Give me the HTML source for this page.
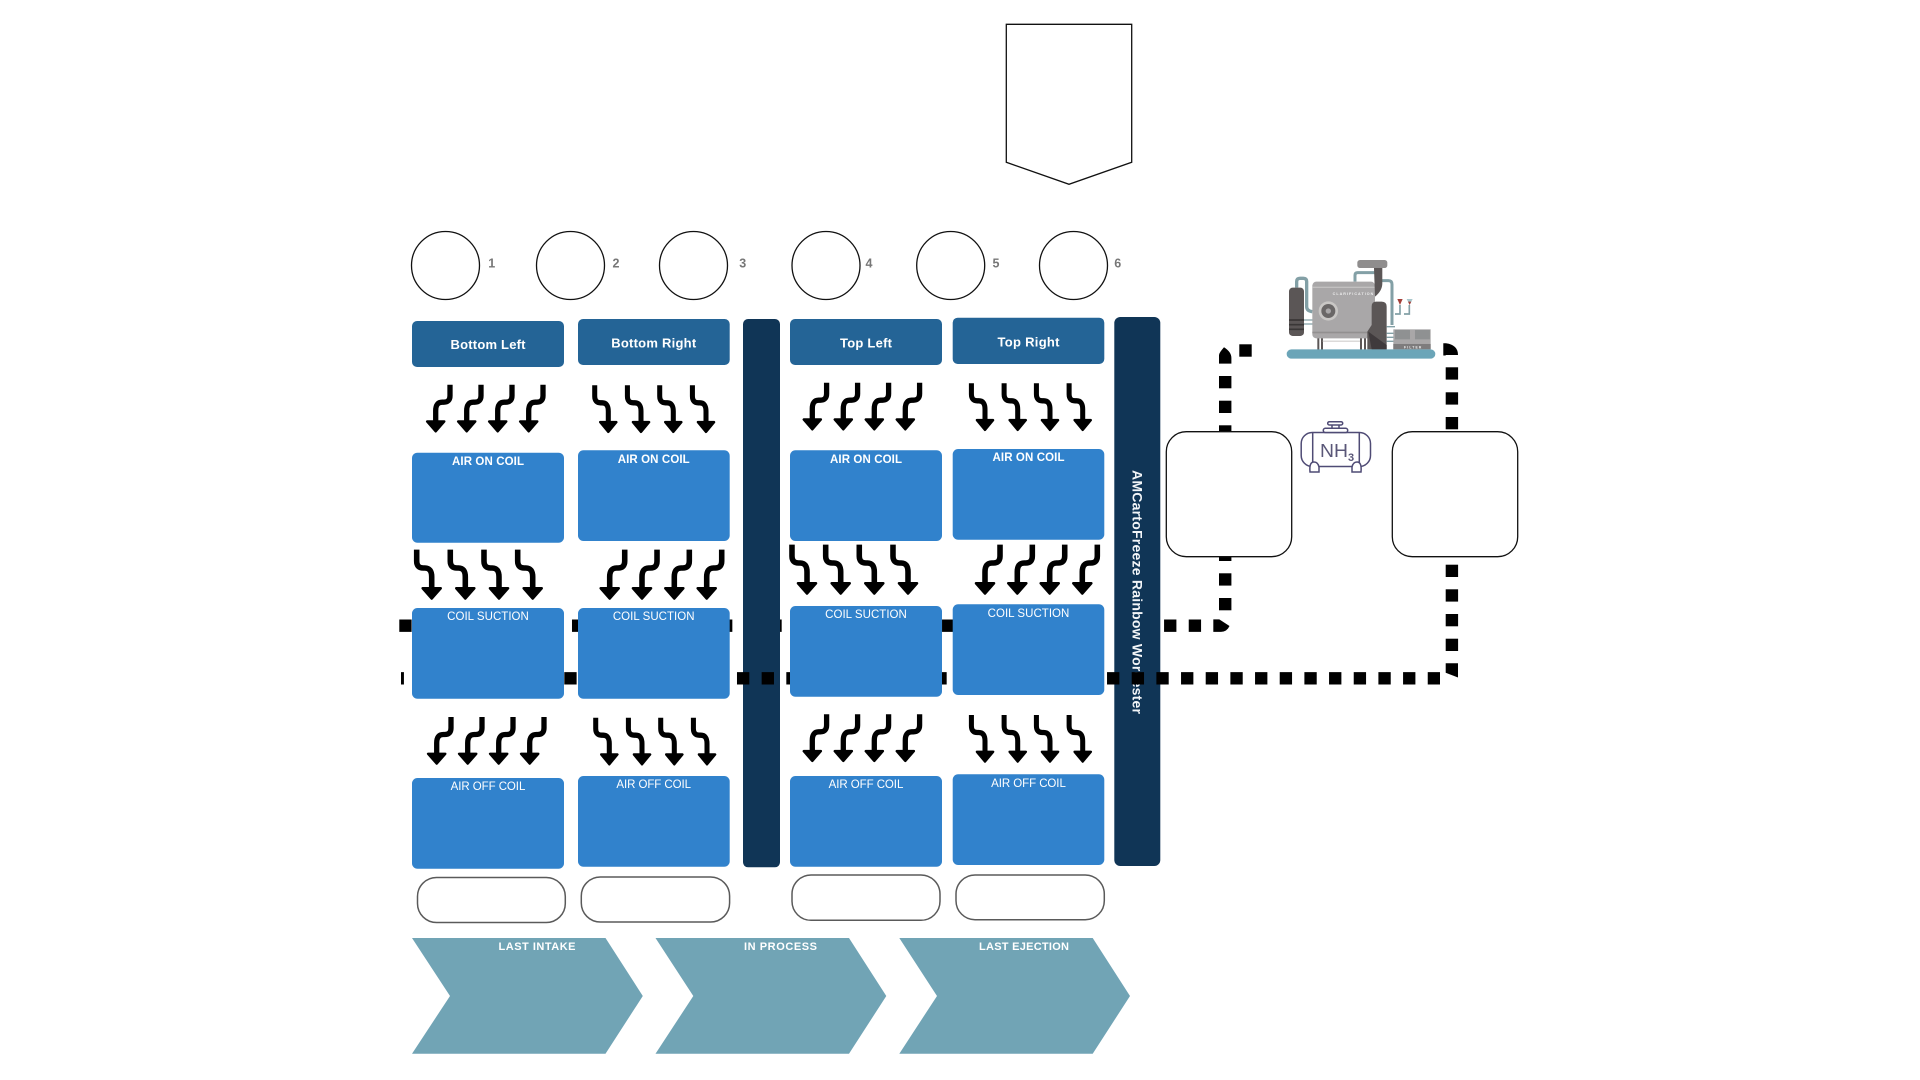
<!DOCTYPE html>
<html lang="en">
<head>
<meta charset="utf-8">
<title>Diagram</title>
<style>
html,body{margin:0;padding:0;background:#fff;width:1920px;height:1080px;overflow:hidden}
svg{display:block}
text{font-family:"Liberation Sans",sans-serif}
.hd{font-size:13px;font-weight:700;fill:#fff;text-anchor:middle}
.b{font-size:11.5px;font-weight:700;fill:#fff;text-anchor:middle}
.r{font-size:11.5px;fill:#fff;text-anchor:middle}
.ch{font-size:11px;font-weight:700;fill:#fff;text-anchor:middle}
.n{font-size:12.5px;font-weight:700;fill:#777;text-anchor:middle}
.hb{fill:#246496}
.bl{fill:#3182cc}
.dk{fill:#103556}
.pill{fill:#fff;stroke:#5a5a5a;stroke-width:1.5}
.circ{fill:#fff;stroke:#111;stroke-width:1.3}
</style>
</head>
<body>
<svg width="1920" height="1080" viewBox="0 0 1920 1080" xmlns="http://www.w3.org/2000/svg">
<defs>
<g id="dl">
<path d="M14.3 -48V-37Q14.3 -30.5 8 -30.5H6.5Q0 -30.5 0 -22V-10" fill="none" stroke="#000" stroke-width="5.3"/>
<polygon points="-8.6,-11.2 8.6,-11.2 0,-1.4" fill="#000" stroke="#000" stroke-width="2.4" stroke-linejoin="round"/>
</g>
<g id="dr"><use href="#dl" transform="scale(-1,1)"/></g>
</defs>

<rect width="1920" height="1080" fill="#fff"/>

<!-- shield -->
<polygon points="1006.3,24.3 1131.7,24.3 1131.7,162.3 1069,184.3 1006.3,162.3" fill="#fff" stroke="#111" stroke-width="1.3"/>

<!-- circles -->
<circle class="circ" cx="445.5" cy="265.5" r="34"/>
<circle class="circ" cx="570.5" cy="265.5" r="34"/>
<circle class="circ" cx="693.5" cy="265.5" r="34"/>
<circle class="circ" cx="826" cy="265.5" r="34"/>
<circle class="circ" cx="950.7" cy="265.5" r="34"/>
<circle class="circ" cx="1073.5" cy="265.5" r="34"/>
<text class="n" x="491.7" y="267.5">1</text>
<text class="n" x="616" y="267.5">2</text>
<text class="n" x="742.7" y="267.5">3</text>
<text class="n" x="869" y="267.5">4</text>
<text class="n" x="996" y="267.5">5</text>
<text class="n" x="1117.7" y="267.5">6</text>

<!-- dashed line 1 (below bars) -->
<path d="M399.3 625.7H1213" fill="none" stroke="#000" stroke-width="12.4" stroke-dasharray="12.33 12.34"/>

<!-- bars -->
<rect class="dk" x="743" y="319" width="37" height="548.3" rx="5"/>
<rect class="dk" x="1114.3" y="317" width="46" height="549" rx="6"/>
<text transform="translate(1132.3,470) rotate(90)" x="0" y="0" font-size="14" font-weight="700" fill="#f2f5f8" textLength="244" lengthAdjust="spacing">AMCartoFreeze Rainbow Worcester</text>

<!-- dashed line 2 (over bars, under blocks) -->
<path d="M401 678.3H1440" fill="none" stroke="#000" stroke-width="12.4" stroke-dasharray="12.33 12.34" stroke-dashoffset="9.4"/>

<!-- corner and vertical dashes: left -->
<path d="M1213.3 619.4H1219.3L1229.5 626Q1227 631.7 1221 631.9H1213.3Z" fill="#000"/>
<rect x="1219" y="598" width="12.4" height="12.3"/>
<rect x="1219" y="573.3" width="12.4" height="12.3"/>
<rect x="1219" y="548.7" width="12.4" height="12.3"/>
<rect x="1219" y="425.3" width="12.4" height="12.3"/>
<rect x="1219" y="400.7" width="12.4" height="12.3"/>
<rect x="1219" y="376" width="12.4" height="12.3"/>
<path d="M1219 363.6V355Q1219 353 1224 347.3Q1231.4 352 1231.4 358V363.6Z" fill="#000"/>
<rect x="1239.3" y="344.3" width="12.4" height="12.4"/>

<!-- corner and vertical dashes: right -->
<path d="M1443.3 343.3H1446Q1458 345 1458 355H1445.7V355.5H1443.3Z" fill="#000"/>
<rect x="1445.7" y="367.3" width="12.4" height="12.3"/>
<rect x="1445.7" y="392.3" width="12.4" height="12.3"/>
<rect x="1445.7" y="417" width="12.4" height="12.3"/>
<rect x="1445.7" y="564.7" width="12.4" height="12.3"/>
<rect x="1445.7" y="589.3" width="12.4" height="12.3"/>
<rect x="1445.7" y="614" width="12.4" height="12.3"/>
<rect x="1445.7" y="638.7" width="12.4" height="12.3"/>
<polygon points="1445.7,663.3 1458,663.3 1458,677.5 1445.7,672.7"/>

<!-- headers -->
<rect class="hb" x="412" y="321" width="152" height="46" rx="5"/>
<rect class="hb" x="578" y="319" width="151.7" height="46" rx="5"/>
<rect class="hb" x="790" y="319" width="152" height="46" rx="5"/>
<rect class="hb" x="952.7" y="317.7" width="151.6" height="46.3" rx="5"/>
<text class="hd" x="488" y="349" textLength="75" lengthAdjust="spacing">Bottom Left</text>
<text class="hd" x="653.7" y="347.3" textLength="85" lengthAdjust="spacing">Bottom Right</text>
<text class="hd" x="866" y="347.3" textLength="52" lengthAdjust="spacing">Top Left</text>
<text class="hd" x="1028.5" y="346.3" textLength="62" lengthAdjust="spacing">Top Right</text>

<!-- blocks -->
<rect class="bl" x="412" y="452.7" width="152" height="90" rx="5.5"/>
<rect class="bl" x="578" y="450.3" width="151.7" height="90.7" rx="5.5"/>
<rect class="bl" x="790" y="450.3" width="152" height="90.7" rx="5.5"/>
<rect class="bl" x="952.7" y="449" width="151.6" height="90.7" rx="5.5"/>

<rect class="bl" x="412" y="608" width="152" height="90.7" rx="5.5"/>
<rect class="bl" x="578" y="608" width="151.7" height="90.7" rx="5.5"/>
<rect class="bl" x="790" y="606" width="152" height="90.7" rx="5.5"/>
<rect class="bl" x="952.7" y="604.3" width="151.6" height="90.7" rx="5.5"/>

<rect class="bl" x="412" y="778" width="152" height="90.7" rx="5.5"/>
<rect class="bl" x="578" y="776" width="151.7" height="90.7" rx="5.5"/>
<rect class="bl" x="790" y="776" width="152" height="90.7" rx="5.5"/>
<rect class="bl" x="952.7" y="774.3" width="151.6" height="90.7" rx="5.5"/>

<text class="b" x="488" y="465" textLength="72" lengthAdjust="spacing">AIR ON COIL</text>
<text class="b" x="653.7" y="463.2" textLength="72" lengthAdjust="spacing">AIR ON COIL</text>
<text class="b" x="866" y="463.2" textLength="72" lengthAdjust="spacing">AIR ON COIL</text>
<text class="b" x="1028.5" y="461.2" textLength="72" lengthAdjust="spacing">AIR ON COIL</text>

<text class="r" x="488" y="620" textLength="81.7" lengthAdjust="spacing">COIL SUCTION</text>
<text class="r" x="653.7" y="620" textLength="81.7" lengthAdjust="spacing">COIL SUCTION</text>
<text class="r" x="866" y="618" textLength="81.7" lengthAdjust="spacing">COIL SUCTION</text>
<text class="r" x="1028.5" y="617" textLength="81.7" lengthAdjust="spacing">COIL SUCTION</text>

<text class="r" x="488" y="790.2" textLength="74.7" lengthAdjust="spacing">AIR OFF COIL</text>
<text class="r" x="653.7" y="788.2" textLength="74.7" lengthAdjust="spacing">AIR OFF COIL</text>
<text class="r" x="866" y="788.2" textLength="74.7" lengthAdjust="spacing">AIR OFF COIL</text>
<text class="r" x="1028.5" y="787.2" textLength="74.7" lengthAdjust="spacing">AIR OFF COIL</text>

<!-- arrows row 1 -->
<use href="#dl" transform="translate(435.7,432.7)"/>
<use href="#dl" transform="translate(466.7,432.7)"/>
<use href="#dl" transform="translate(497.7,432.7)"/>
<use href="#dl" transform="translate(528.7,432.7)"/>
<use href="#dr" transform="translate(608.3,433.3) scale(.95,1)"/>
<use href="#dr" transform="translate(641,433.3) scale(.95,1)"/>
<use href="#dr" transform="translate(673.3,433.3) scale(.95,1)"/>
<use href="#dr" transform="translate(706,433.3) scale(.95,1)"/>
<use href="#dl" transform="translate(812.3,430.7)"/>
<use href="#dl" transform="translate(843.3,430.7)"/>
<use href="#dl" transform="translate(874.3,430.7)"/>
<use href="#dl" transform="translate(905.3,430.7)"/>
<use href="#dr" transform="translate(985,431.3) scale(.95,1)"/>
<use href="#dr" transform="translate(1017.7,431.3) scale(.95,1)"/>
<use href="#dr" transform="translate(1050,431.3) scale(.95,1)"/>
<use href="#dr" transform="translate(1082.7,431.3) scale(.95,1)"/>

<!-- arrows row 2 -->
<use href="#dr" transform="translate(431.7,600) scale(1.05)"/>
<use href="#dr" transform="translate(465.3,600) scale(1.05)"/>
<use href="#dr" transform="translate(499,600) scale(1.05)"/>
<use href="#dr" transform="translate(532.7,600) scale(1.05)"/>
<use href="#dl" transform="translate(609.7,600) scale(1.05)"/>
<use href="#dl" transform="translate(642,600) scale(1.05)"/>
<use href="#dl" transform="translate(674.3,600) scale(1.05)"/>
<use href="#dl" transform="translate(706.7,600) scale(1.05)"/>
<use href="#dr" transform="translate(807,595) scale(1.05)"/>
<use href="#dr" transform="translate(840.7,595) scale(1.05)"/>
<use href="#dr" transform="translate(874.3,595) scale(1.05)"/>
<use href="#dr" transform="translate(908,595) scale(1.05)"/>
<use href="#dl" transform="translate(985,595) scale(1.05)"/>
<use href="#dl" transform="translate(1017.3,595) scale(1.05)"/>
<use href="#dl" transform="translate(1049.7,595) scale(1.05)"/>
<use href="#dl" transform="translate(1082.3,595) scale(1.05)"/>

<!-- arrows row 3 -->
<use href="#dl" transform="translate(436.7,765)"/>
<use href="#dl" transform="translate(467.7,765)"/>
<use href="#dl" transform="translate(498.7,765)"/>
<use href="#dl" transform="translate(529.7,765)"/>
<use href="#dr" transform="translate(609.3,765.7) scale(.95,1)"/>
<use href="#dr" transform="translate(642,765.7) scale(.95,1)"/>
<use href="#dr" transform="translate(674.3,765.7) scale(.95,1)"/>
<use href="#dr" transform="translate(707,765.7) scale(.95,1)"/>
<use href="#dl" transform="translate(812.3,762.3)"/>
<use href="#dl" transform="translate(843.3,762.3)"/>
<use href="#dl" transform="translate(874.3,762.3)"/>
<use href="#dl" transform="translate(905.3,762.3)"/>
<use href="#dr" transform="translate(985,763) scale(.95,1)"/>
<use href="#dr" transform="translate(1017.7,763) scale(.95,1)"/>
<use href="#dr" transform="translate(1050,763) scale(.95,1)"/>
<use href="#dr" transform="translate(1082.7,763) scale(.95,1)"/>

<!-- pills -->
<rect class="pill" x="417.5" y="877.5" width="147.8" height="45" rx="19"/>
<rect class="pill" x="581.3" y="877" width="148.3" height="45" rx="19"/>
<rect class="pill" x="792" y="875" width="148" height="45.3" rx="19"/>
<rect class="pill" x="956" y="875" width="148.3" height="44.7" rx="19"/>

<!-- chevrons -->
<polygon points="412,938 605.5,938 642.8,996 605.5,1053.7 412,1053.7 450,996" fill="#71a4b5"/>
<polygon points="655.5,938 849,938 886.3,996 849,1053.7 655.5,1053.7 693.3,996" fill="#71a4b5"/>
<polygon points="899.3,938 1092.7,938 1130,996 1092.7,1053.7 899.3,1053.7 937,996" fill="#71a4b5"/>
<text class="ch" x="537" y="950" textLength="77" lengthAdjust="spacing">LAST INTAKE</text>
<text class="ch" x="780.5" y="950" textLength="73" lengthAdjust="spacing">IN PROCESS</text>
<text class="ch" x="1024" y="950" textLength="90" lengthAdjust="spacing">LAST EJECTION</text>

<!-- right boxes -->
<rect x="1166.3" y="431.7" width="125.4" height="125" rx="20" fill="#fff" stroke="#111" stroke-width="1.3"/>
<rect x="1392.3" y="431.7" width="125.4" height="125" rx="20" fill="#fff" stroke="#111" stroke-width="1.3"/>

<!-- machine illustration -->
<g transform="translate(1280,250) scale(0.3333)">
<path d="M50 113V95Q50 85 60 85H70Q80 85 80 95V170Q80 183 97 185" fill="none" stroke="#83a0a6" stroke-width="10"/>
<path d="M225 95V76Q225 68 233 68H285" fill="none" stroke="#83a0a6" stroke-width="9"/>
<path d="M300 92H325Q336 92 336 103V225" fill="none" stroke="#83a0a6" stroke-width="9"/>
<path d="M72 210H100M72 222H100" stroke="#83a0a6" stroke-width="4"/>
<rect x="112" y="262" width="6" height="38" fill="#5b5656"/>
<rect x="123" y="262" width="6" height="38" fill="#5b5656"/>
<rect x="240" y="262" width="6" height="38" fill="#5b5656"/>
<rect x="252" y="262" width="6" height="38" fill="#5b5656"/>
<rect x="128" y="272" width="112" height="3" fill="#c9c7c5"/>
<rect x="27" y="113" width="45" height="145" rx="11" fill="#5b5656"/>
<path d="M27 210H72M27 224H72M27 238H72" stroke="#3a3737" stroke-width="5"/>
<rect x="97" y="95" width="188" height="170" rx="12" fill="#a9a7a8"/>
<rect x="97" y="110" width="188" height="4" fill="#c2c0c0"/>
<rect x="97" y="245" width="188" height="5" fill="#929090"/>
<text x="158" y="135" font-family="Liberation Serif,serif" font-size="11" font-weight="700" fill="#efefef" textLength="122" lengthAdjust="spacing">CLARIFICATION</text>
<circle cx="145" cy="183" r="29" fill="#c9c7c5"/>
<circle cx="145" cy="183" r="21" fill="#6a6767"/>
<circle cx="145" cy="183" r="8" fill="#a9a7a8"/>
<path d="M282 54H307V100Q307 122 285 140Z" fill="#5b5656"/>
<rect x="232" y="30" width="90" height="24" rx="8" fill="#8f8d8d"/>
<path d="M320 170Q320 155 305 155H288Q275 155 275 170V225L262 245V298H320Z" fill="#5b5656"/>
<path d="M265 245L320 285V298H275Z" fill="#3f3a3c"/>
<path d="M320 230H345M320 250H345M320 262H345M320 274H345" stroke="#83a0a6" stroke-width="4"/>
<rect x="340" y="238" width="112" height="60" fill="#a9a7a8"/>
<rect x="345" y="240" width="45" height="28" fill="#8f9192"/>
<rect x="405" y="240" width="45" height="28" fill="#8f9192"/>
<rect x="340" y="282" width="112" height="16" fill="#7e7c7d"/>
<text x="372" y="295" font-family="Liberation Serif,serif" font-size="10" font-weight="700" fill="#efefef" textLength="52" lengthAdjust="spacing">FILTER</text>
<path d="M345 192H360V165M372 192H388V165" fill="none" stroke="#83a0a6" stroke-width="5"/>
<polygon points="352,147 368,147 360,165" fill="#a3403a"/>
<polygon points="380,147 398,147 389,165" fill="#a9c7cc"/>
<polygon points="384,155 394,155 389,165" fill="#a3403a"/>
<rect x="20" y="298" width="446" height="28" rx="14" fill="#6ba5b8"/>
</g>

<!-- NH3 tank -->
<g fill="none" stroke="#4f4b75" stroke-width="1.5">
<rect x="1301.2" y="432.5" width="69.3" height="34" rx="11"/>
<path d="M1312.7 432.5V466.5M1359.3 432.5V466.5"/>
<rect x="1323.3" y="428.3" width="24.4" height="4.2" rx="2" fill="#fff"/>
<path d="M1332 425V428.3M1339 425V428.3"/>
<rect x="1327.7" y="421.7" width="15" height="3.3" rx="1.6" fill="#fff"/>
<path d="M1310 472Q1309 462 1314 462Q1318 462 1319 467V472Z" fill="#fff"/>
<path d="M1361 472Q1362 462 1357 462Q1353 462 1352 467V472Z" fill="#fff"/>
</g>
<text x="1320" y="457" font-size="18.5" fill="#5a5778" textLength="28" lengthAdjust="spacingAndGlyphs">NH</text>
<text x="1348" y="461" font-size="11" font-weight="700" fill="#5a5778">3</text>
</svg>
</body>
</html>
